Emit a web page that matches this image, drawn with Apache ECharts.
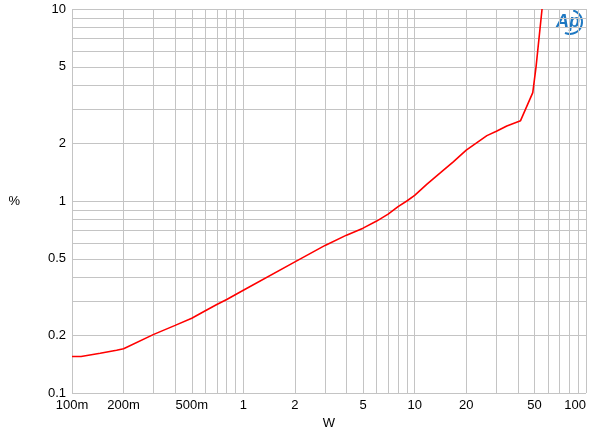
<!DOCTYPE html>
<html><head><meta charset="utf-8">
<script src="https://cdn.jsdelivr.net/npm/echarts@6/dist/echarts.min.js"></script>
<style>html,body{margin:0;padding:0;background:#fff}#c{width:600px;height:441px}</style>
</head><body><div id="c"></div>
<script>
// Data (power in W, THD+N in %)
const powerW = [0.1, 0.113, 0.146, 0.182, 0.2, 0.3, 0.4, 0.5, 0.6, 0.7, 0.8, 1, 2, 3, 4, 5, 6, 7, 8, 9, 10, 11.8, 14.1, 16.8, 20, 26.4, 30, 34.5, 41.5, 48.9, 51.1, 55.4];
const thdPct = [0.155, 0.155, 0.161, 0.167, 0.170, 0.202, 0.225, 0.245, 0.268, 0.289, 0.307, 0.343, 0.482, 0.587, 0.664, 0.722, 0.786, 0.855, 0.935, 1.0, 1.07, 1.225, 1.40, 1.60, 1.84, 2.19, 2.31, 2.46, 2.62, 3.67, 5.0, 10.0];
const xTicks = [0.1,0.2,0.3,0.4,0.5,0.6,0.7,0.8,0.9,1,2,3,4,5,6,7,8,9,10,20,30,40,50,60,70,80,90,100];
const xLabels = [0.1,0.2,0.5,1,2,5,10,20,50,100];
const yTicks = [0.1,0.2,0.3,0.4,0.5,0.6,0.7,0.8,0.9,1,2,3,4,5,6,7,8,9,10];
const yLabels = [0.1,0.2,0.5,1,2,5,10];

const chart = echarts.init(document.getElementById('c'), null, {renderer:'canvas'});
const gridColor = '#c4c4c4';
const font = 'Liberation Sans, Arial, sans-serif';
function fmtX(v){ return v < 1 ? Math.round(v*1000) + 'm' : String(Math.round(v)); }
chart.setOption({
  animation:false,
  backgroundColor:'#fff',
  grid:{left:72, right:14, top:9, bottom:48, containLabel:false},
  xAxis:{
    type:'log', logBase:10, min:0.1, max:100,
    name:'W', nameLocation:'middle', nameGap:24,
    nameTextStyle:{color:'#000', fontSize:13, fontFamily:font},
    axisLine:{show:false},
    axisTick:{show:false, customValues:xTicks},
    axisLabel:{customValues:xLabels, formatter:fmtX, color:'#000', fontSize:13, fontFamily:font, margin:6, alignMaxLabel:'right'},
    splitLine:{show:true, lineStyle:{color:gridColor, width:1}}
  },
  yAxis:{
    type:'log', logBase:10, min:0.1, max:10,
    name:'%', nameLocation:'middle', nameGap:52, nameRotate:0,
    nameTextStyle:{color:'#000', fontSize:13, fontFamily:font},
    axisLine:{show:false},
    axisTick:{show:false, customValues:yTicks},
    axisLabel:{customValues:yLabels, formatter:v=>String(+v.toPrecision(3)), color:'#000', fontSize:13, fontFamily:font, margin:6},
    splitLine:{show:true, lineStyle:{color:gridColor, width:1}}
  },
  series:[{
    type:'line', data:powerW.map((x,i)=>[x,thdPct[i]]),
    showSymbol:false, smooth:false, clip:true,
    lineStyle:{color:'#ff0000', width:1.6}
  }],
  graphic:[
    {type:'text', left:556, top:13, style:{text:'Ap', fontSize:18, fontStyle:'italic', fontWeight:'bold', fontFamily:font, fill:'#1e78c2'}},
    {type:'arc', shape:{cx:570, cy:22, r:12, startAngle:-1.3, endAngle:2.0}, style:{stroke:'#1e78c2', lineWidth:2, fill:null}}
  ]
});
</script></body></html>
